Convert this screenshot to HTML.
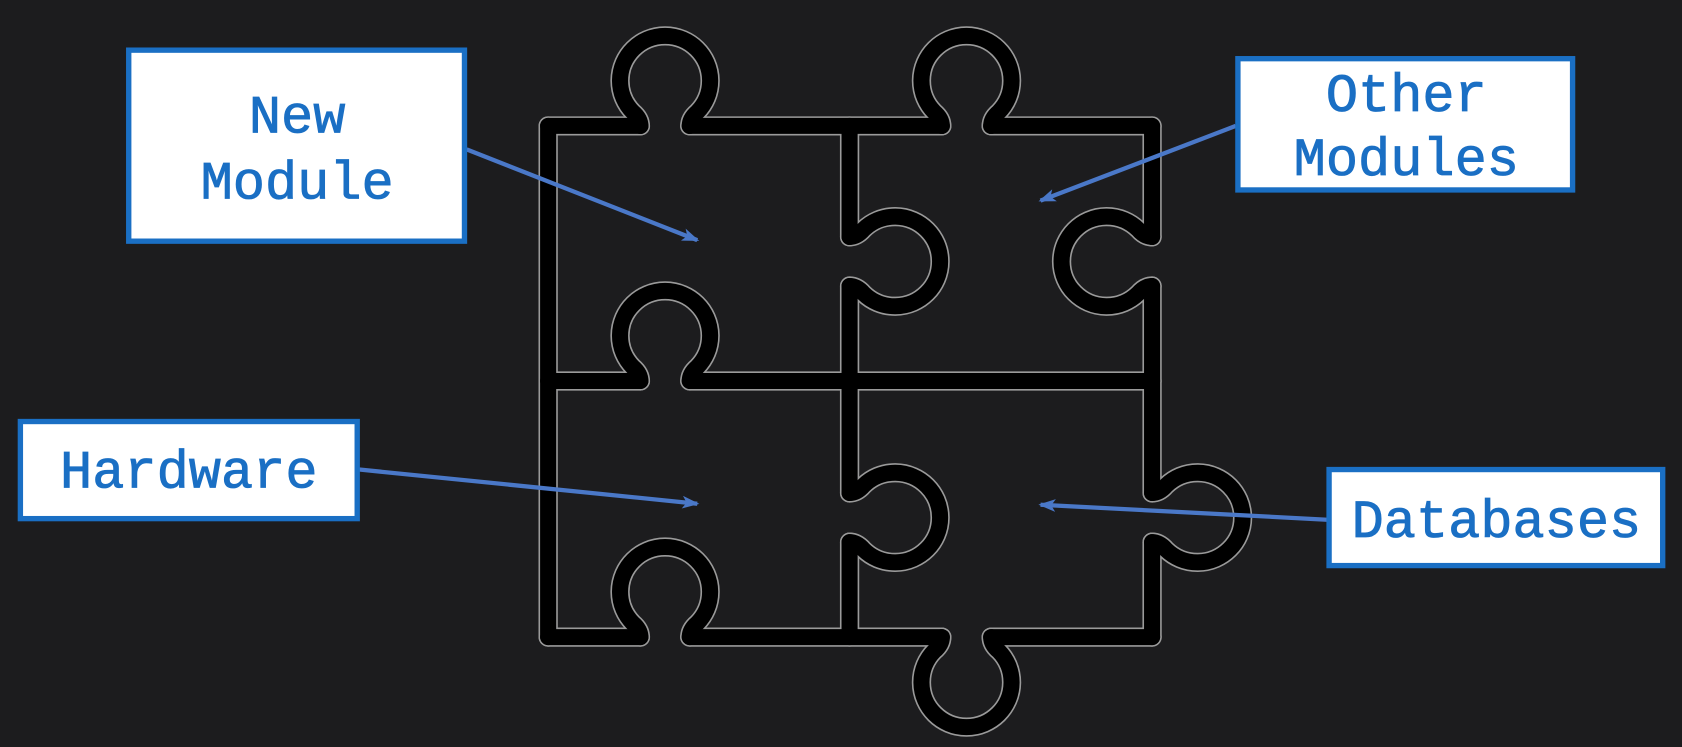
<!DOCTYPE html>
<html><head><meta charset="utf-8"><style>
html,body{margin:0;padding:0;background:#1c1c1e;}
svg{display:block}
text{font-family:"Liberation Mono",monospace;fill:#1a6fc4;font-size:50px;text-anchor:middle;stroke:#1a6fc4;stroke-width:0.8px}
</style></head><body>
<svg width="1682" height="747" viewBox="0 0 1568 700" preserveAspectRatio="none">
<rect width="1568" height="700" fill="#1c1c1e"/>
<defs>
<marker id="ah" markerWidth="16" markerHeight="12" refX="14" refY="6" orient="auto" markerUnits="userSpaceOnUse"><path d="M0,0 L16,6 L0,12 L4,6 Z" fill="#4a78c8"/></marker>
</defs>
<g id="puzzleOutline"></g>
<g id="puzzle"></g>
<g stroke="#4a78c8" stroke-width="4" fill="none">
<line x1="435" y1="140" x2="650" y2="225" marker-end="url(#ah)"/>
<line x1="1152" y1="118" x2="970" y2="188" marker-end="url(#ah)"/>
<line x1="335" y1="440" x2="650" y2="472" marker-end="url(#ah)"/>
<line x1="1237" y1="487" x2="970" y2="473" marker-end="url(#ah)"/>
</g>
<g>
<rect x="120" y="47" width="313" height="179" fill="#fff" stroke="#1a6fc4" stroke-width="5"/>
<text x="277" y="124">New</text><text x="277" y="186">Module</text>
</g>
<g>
<rect x="1154" y="55" width="312" height="123" fill="#fff" stroke="#1a6fc4" stroke-width="5"/>
<text x="1311" y="104">Other</text><text x="1311" y="164">Modules</text>
</g>
<g>
<rect x="19" y="395" width="314" height="91" fill="#fff" stroke="#1a6fc4" stroke-width="5"/>
<text x="176" y="457">Hardware</text>
</g>
<g>
<rect x="1239" y="440" width="311" height="90" fill="#fff" stroke="#1a6fc4" stroke-width="5"/>
<text x="1395" y="503">Databases</text>
</g>
</svg>
<script>
const L=511,R=1074,T=118,M=357,B=597,V=792;
const hLines=[[T,[620,901]],[M,[620]],[B,[620,901]]];
const vLines=[[L,[]],[V,[245,485]],[R,[245,485]]];
const knobs=[[620,T,0],[901,T,0],[620,M,0],[620,B,0],[901,B,180],[V,245,90],[V,485,90],[R,245,-90],[R,485,90]];
const gO=document.getElementById('puzzleOutline');
const g=document.getElementById('puzzle');
const NS='http://www.w3.org/2000/svg';
function add(d,tr){
  [[gO,'#9a9a9a',18],[g,'#000',15]].forEach(([grp,c,w])=>{
    const p=document.createElementNS(NS,'path');
    p.setAttribute('d',d);
    if(tr)p.setAttribute('transform',tr);
    p.setAttribute('stroke',c);p.setAttribute('stroke-width',w);
    p.setAttribute('fill','none');p.setAttribute('stroke-linecap','round');p.setAttribute('stroke-linejoin','round');
    
    
    grp.appendChild(p);
  });
}
const G=23;
hLines.forEach(([y,gaps])=>{let x=L;gaps.forEach(c=>{add(`M${x} ${y}L${c-G} ${y}`);x=c+G;});add(`M${x} ${y}L${R} ${y}`);});
vLines.forEach(([x,gaps])=>{let y=T;gaps.forEach(c=>{add(`M${x} ${y}L${x} ${c-G}`);y=c+G;});add(`M${x} ${y}L${x} ${B}`);});
knobs.forEach(([x,y,r])=>{
  add('M-23 0Q-23 -7 -30 -13A42 42 0 1 1 30 -13Q23 -7 23 0',`translate(${x} ${y}) rotate(${r})`);
});
</script>
</body></html>
